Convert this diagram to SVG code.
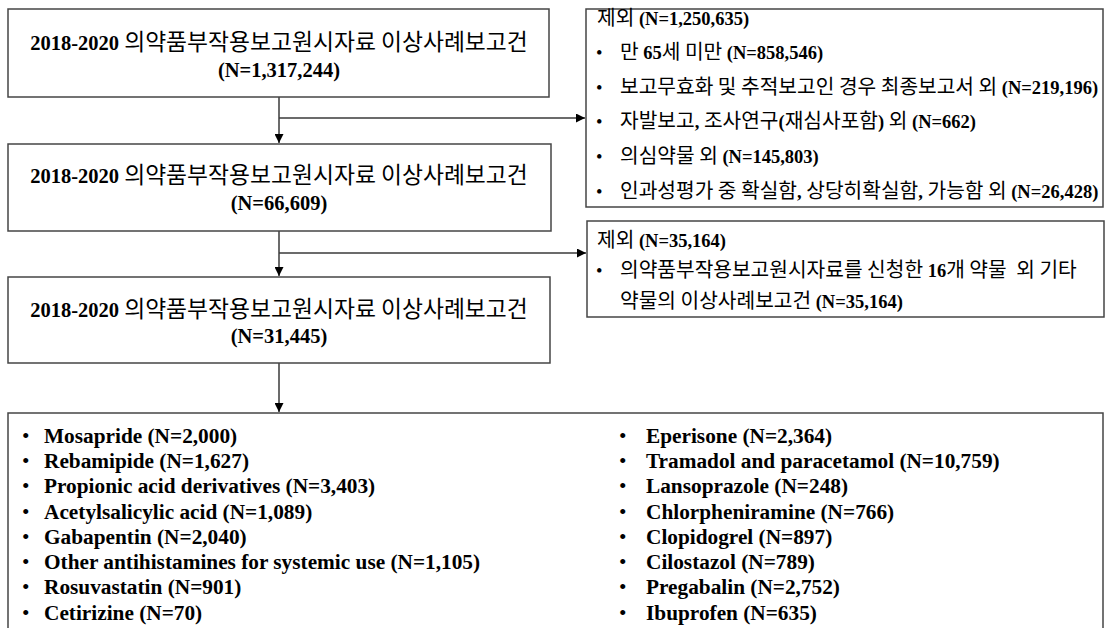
<svg xmlns="http://www.w3.org/2000/svg" width="1111" height="628" viewBox="0 0 1111 628">
<style>
.box{fill:#fff;stroke:#454545;stroke-width:1.5}
.ln{fill:none;stroke:#3a3a3a;stroke-width:1.5}
.b{font-family:"Liberation Serif","Times New Roman",serif;font-weight:bold}
.k{font-family:"Noto Sans CJK KR","Noto Sans CJK SC",sans-serif;font-weight:normal}
.tt{font-size:20.5px;fill:#000;text-anchor:middle}
.tt .k{font-size:22.8px}
.ex{font-size:18.5px;fill:#000}
.ex .k{font-size:20.3px}
.li{font-size:21.3px;fill:#000}
.bu{font-family:"Liberation Serif",serif;font-weight:normal}
</style>
<defs>
<marker id="ah" viewBox="0 0 10 10" refX="10" refY="5" markerWidth="9" markerHeight="9" markerUnits="userSpaceOnUse" orient="auto">
<path d="M0,0 L10,5 L0,10 Z" fill="#000"/>
</marker>
</defs>
<rect width="1111" height="628" fill="#fff"/>
<g id="connectors">
<line class="ln" x1="279" y1="97" x2="279" y2="143" marker-end="url(#ah)"/>
<line class="ln" x1="279" y1="118" x2="585" y2="118" marker-end="url(#ah)"/>
<line class="ln" x1="279" y1="231" x2="279" y2="276" marker-end="url(#ah)"/>
<line class="ln" x1="279" y1="253" x2="586" y2="253" marker-end="url(#ah)"/>
<line class="ln" x1="279" y1="363" x2="279" y2="412" marker-end="url(#ah)"/>
</g>
<g id="box1">
<rect class="box" x="8" y="9" width="541" height="88"/>
<text class="tt" x="279" y="50"><tspan class="b">2018-2020 </tspan><tspan class="k">의약품부작용보고원시자료 이상사례보고건</tspan></text>
<text class="tt b" x="279" y="77">(N=1,317,244)</text>
</g>
<g id="box2">
<rect class="box" x="8" y="144" width="543" height="87"/>
<text class="tt" x="279" y="183"><tspan class="b">2018-2020 </tspan><tspan class="k">의약품부작용보고원시자료 이상사례보고건</tspan></text>
<text class="tt b" x="279" y="210">(N=66,609)</text>
</g>
<g id="box3">
<rect class="box" x="8" y="277" width="542" height="86"/>
<text class="tt" x="279" y="317"><tspan class="b">2018-2020 </tspan><tspan class="k">의약품부작용보고원시자료 이상사례보고건</tspan></text>
<text class="tt b" x="279" y="343">(N=31,445)</text>
</g>
<g id="excl1">
<rect class="box" x="586" y="9" width="517" height="198"/>
<text class="ex" x="597" y="25"><tspan class="k">제외 </tspan><tspan class="b">(N=1,250,635)</tspan></text>
<text class="ex" x="596" y="59"><tspan class="bu">•</tspan><tspan x="620" class="k">만 </tspan><tspan class="b">65</tspan><tspan class="k">세 미만 </tspan><tspan class="b">(N=858,546)</tspan></text>
<text class="ex" x="596" y="94"><tspan class="bu">•</tspan><tspan x="620" class="k">보고무효화 및 추적보고인 경우 최종보고서 외 </tspan><tspan class="b">(N=219,196)</tspan></text>
<text class="ex" x="596" y="128"><tspan class="bu">•</tspan><tspan x="620" class="k">자발보고</tspan><tspan class="b">, </tspan><tspan class="k">조사연구</tspan><tspan class="b">(</tspan><tspan class="k">재심사포함</tspan><tspan class="b">) </tspan><tspan class="k">외 </tspan><tspan class="b">(N=662)</tspan></text>
<text class="ex" x="596" y="163"><tspan class="bu">•</tspan><tspan x="620" class="k">의심약물 외 </tspan><tspan class="b">(N=145,803)</tspan></text>
<text class="ex" x="596" y="198"><tspan class="bu">•</tspan><tspan x="620" class="k">인과성평가 중 확실함</tspan><tspan class="b">, </tspan><tspan class="k">상당히확실함</tspan><tspan class="b">, </tspan><tspan class="k">가능함 외 </tspan><tspan class="b">(N=26,428)</tspan></text>
</g>
<g id="excl2">
<rect class="box" x="587" y="221" width="517" height="96"/>
<text class="ex" x="597" y="247"><tspan class="k">제외 </tspan><tspan class="b">(N=35,164)</tspan></text>
<text class="ex" x="596" y="277"><tspan class="bu">•</tspan><tspan x="620" class="k">의약품부작용보고원시자료를 신청한 </tspan><tspan class="b">16</tspan><tspan class="k">개 약물 </tspan><tspan class="k" dx="5">외 기타</tspan></text>
<text class="ex" x="620" y="308"><tspan class="k">약물의 이상사례보고건 </tspan><tspan class="b">(N=35,164)</tspan></text>
</g>
<g id="drugs">
<rect class="box" x="8" y="413" width="1095" height="230"/>
<g class="li b">
<text x="22" y="443"><tspan class="bu">•</tspan><tspan x="44">Mosapride (N=2,000)</tspan></text>
<text x="22" y="468"><tspan class="bu">•</tspan><tspan x="44">Rebamipide (N=1,627)</tspan></text>
<text x="22" y="493"><tspan class="bu">•</tspan><tspan x="44">Propionic acid derivatives (N=3,403)</tspan></text>
<text x="22" y="519"><tspan class="bu">•</tspan><tspan x="44">Acetylsalicylic acid (N=1,089)</tspan></text>
<text x="22" y="544"><tspan class="bu">•</tspan><tspan x="44">Gabapentin (N=2,040)</tspan></text>
<text x="22" y="569"><tspan class="bu">•</tspan><tspan x="44">Other antihistamines for systemic use (N=1,105)</tspan></text>
<text x="22" y="594"><tspan class="bu">•</tspan><tspan x="44">Rosuvastatin (N=901)</tspan></text>
<text x="22" y="620"><tspan class="bu">•</tspan><tspan x="44">Cetirizine (N=70)</tspan></text>
<text x="619" y="443"><tspan class="bu">•</tspan><tspan x="646">Eperisone (N=2,364)</tspan></text>
<text x="619" y="468"><tspan class="bu">•</tspan><tspan x="646">Tramadol and paracetamol (N=10,759)</tspan></text>
<text x="619" y="493"><tspan class="bu">•</tspan><tspan x="646">Lansoprazole (N=248)</tspan></text>
<text x="619" y="519"><tspan class="bu">•</tspan><tspan x="646">Chlorpheniramine (N=766)</tspan></text>
<text x="619" y="544"><tspan class="bu">•</tspan><tspan x="646">Clopidogrel (N=897)</tspan></text>
<text x="619" y="569"><tspan class="bu">•</tspan><tspan x="646">Cilostazol (N=789)</tspan></text>
<text x="619" y="594"><tspan class="bu">•</tspan><tspan x="646">Pregabalin (N=2,752)</tspan></text>
<text x="619" y="620"><tspan class="bu">•</tspan><tspan x="646">Ibuprofen (N=635)</tspan></text>
</g>
</g>
</svg>
